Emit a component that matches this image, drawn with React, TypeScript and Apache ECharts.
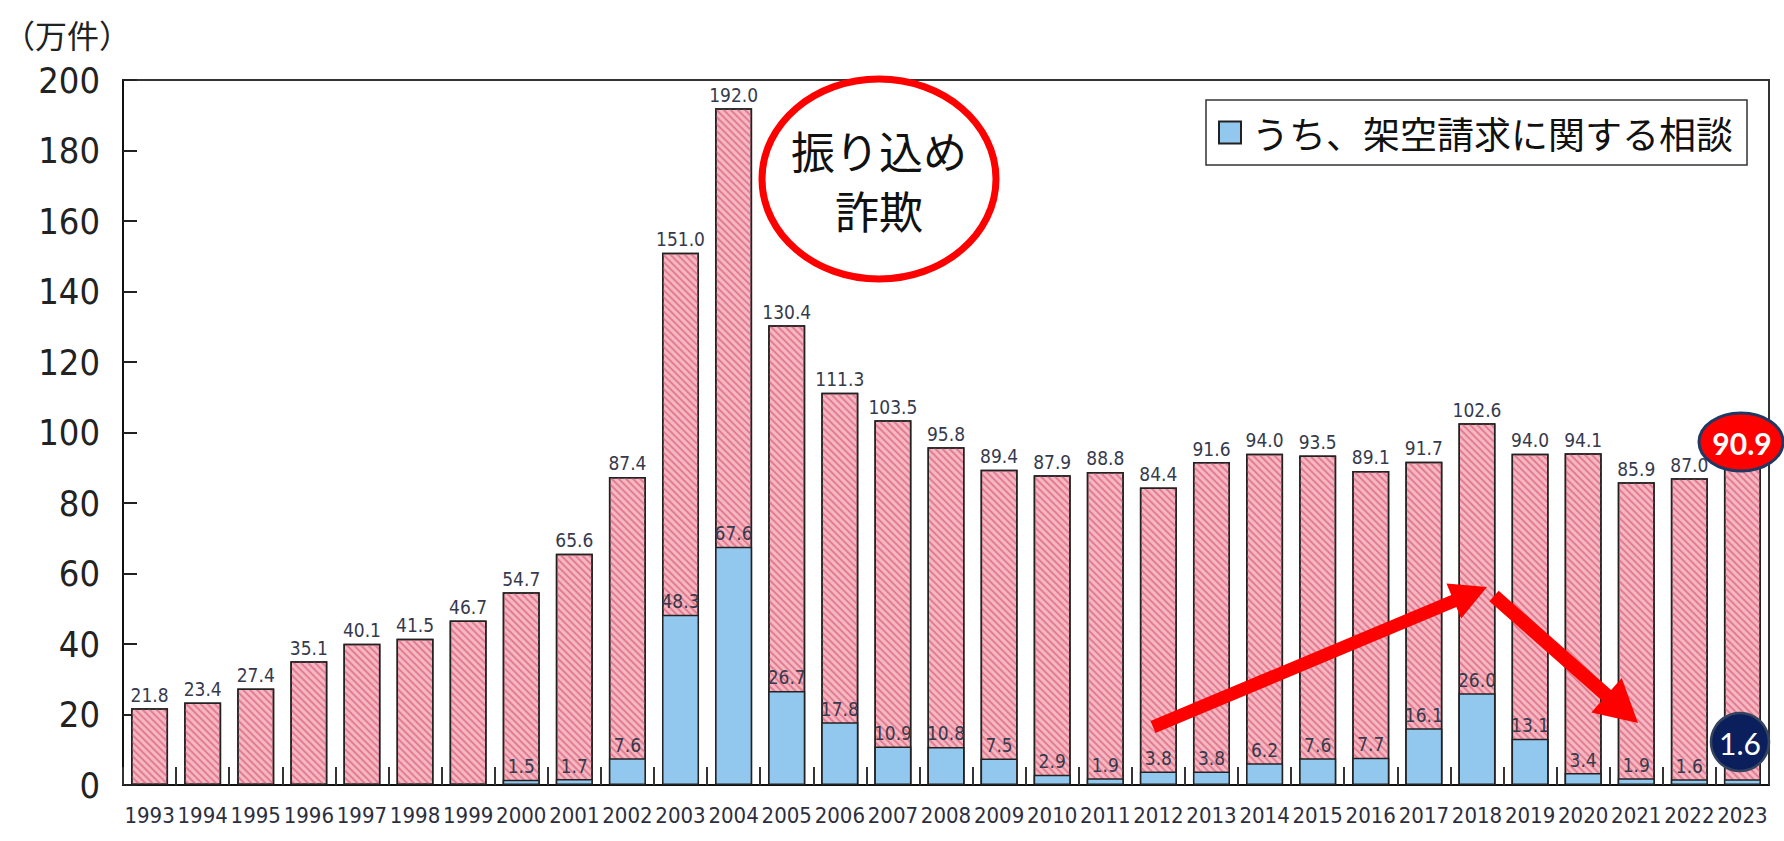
import React, { useEffect, useRef } from "react";
import * as echarts from "echarts";

const years = [
  "1993", "1994", "1995", "1996", "1997", "1998", "1999", "2000", "2001", "2002",
  "2003", "2004", "2005", "2006", "2007", "2008", "2009", "2010", "2011", "2012",
  "2013", "2014", "2015", "2016", "2017", "2018", "2019", "2020", "2021", "2022", "2023",
];

const totalConsultations = [
  21.8, 23.4, 27.4, 35.1, 40.1, 41.5, 46.7, 54.7, 65.6, 87.4,
  151.0, 192.0, 130.4, 111.3, 103.5, 95.8, 89.4, 87.9, 88.8, 84.4,
  91.6, 94.0, 93.5, 89.1, 91.7, 102.6, 94.0, 94.1, 85.9, 87.0, 90.9,
];

const fictitiousBilling: (number | null)[] = [
  null, null, null, null, null, null, null, 1.5, 1.7, 7.6,
  48.3, 67.6, 26.7, 17.8, 10.9, 10.8, 7.5, 2.9, 1.9, 3.8,
  3.8, 6.2, 7.6, 7.7, 16.1, 26.0, 13.1, 3.4, 1.9, 1.6, 1.6,
];

const yMin = 0;
const yMax = 200;
const yStep = 20;

const totalName = "消費生活相談件数";
const billingName = "うち、架空請求に関する相談";
const unitLabel = "（万件）";
const calloutTitle = "振り込め\n詐欺";

const NUM_FONT = "'Liberation Sans Narrow', 'Arial Narrow', 'DejaVu Sans Condensed', sans-serif";
const JP_FONT = "'Noto Sans CJK JP', 'Noto Sans', sans-serif";

function arrowPoints(sx: number, sy: number, ex: number, ey: number, w: number, hl: number, hw: number) {
  const dx = ex - sx;
  const dy = ey - sy;
  const len = Math.sqrt(dx * dx + dy * dy);
  const ux = dx / len;
  const uy = dy / len;
  const nx = -uy;
  const ny = ux;
  const bx = ex - ux * hl;
  const by = ey - uy * hl;
  return [
    [sx + (nx * w) / 2, sy + (ny * w) / 2],
    [bx + (nx * w) / 2, by + (ny * w) / 2],
    [bx + (nx * hw) / 2, by + (ny * hw) / 2],
    [ex, ey],
    [bx - (nx * hw) / 2, by - (ny * hw) / 2],
    [bx - (nx * w) / 2, by - (ny * w) / 2],
    [sx - (nx * w) / 2, sy - (ny * w) / 2],
  ];
}

export default function App() {
  const ref = useRef<HTMLDivElement>(null);

  useEffect(() => {
    if (!ref.current) return;
    const chart = echarts.init(ref.current, undefined, { renderer: "svg" });
    const last = years.length - 1;

    const labelStyle = {
      fontFamily: NUM_FONT,
      fontSize: 19,
      color: "#363a4c",
    };

    const option: any = {
      animation: false,
      backgroundColor: "#ffffff",
      grid: {
        left: 108,
        right: 15,
        top: 80,
        bottom: 56,
        show: true,
        borderColor: "#333333",
        borderWidth: 2,
        backgroundColor: "transparent",
      },
      legend: {
        data: [billingName],
        right: 37,
        top: 100,
        padding: [14, 14, 14, 12],
        borderColor: "#333333",
        borderWidth: 1.5,
        backgroundColor: "#ffffff",
        itemWidth: 22,
        itemHeight: 22,
        icon: "rect",
        textStyle: {
          fontFamily: JP_FONT,
          fontSize: 37,
          color: "#111111",
          padding: [0, 0, 0, 6],
        },
      },
      xAxis: {
        type: "category",
        data: years,
        axisLine: { show: true, lineStyle: { color: "#111111", width: 2 } },
        axisTick: {
          show: true,
          inside: true,
          length: 18,
          lineStyle: { color: "#333333", width: 2 },
        },
        axisLabel: {
          interval: 0,
          fontFamily: NUM_FONT,
          fontSize: 22,
          color: "#2c2e3e",
          margin: 19,
        },
      },
      yAxis: {
        type: "value",
        min: yMin,
        max: yMax,
        interval: yStep,
        name: unitLabel,
        nameLocation: "end",
        nameGap: 46,
        nameTextStyle: {
          fontFamily: JP_FONT,
          fontSize: 32,
          color: "#222222",
          align: "right",
          verticalAlign: "middle",
          padding: [0, -8, 0, 0],
        },
        splitLine: { show: false },
        axisLine: { show: true, lineStyle: { color: "#111111", width: 2 } },
        axisTick: {
          show: true,
          inside: true,
          length: 14,
          lineStyle: { color: "#222222", width: 2 },
        },
        axisLabel: {
          fontFamily: NUM_FONT,
          fontSize: 36,
          color: "#222222",
          margin: 23,
        },
      },
      series: [
        {
          name: totalName,
          type: "bar",
          barWidth: 37,
          barGap: "-100%",
          data: totalConsultations.map((v, i) =>
            i === last ? { value: v, label: { show: false } } : v
          ),
          itemStyle: {
            color: "#f4b8c2",
            borderColor: "#222222",
            borderWidth: 1.5,
            decal: {
              symbol: "rect",
              symbolSize: 1,
              color: "#e47c92",
              dashArrayX: [1, 0],
              dashArrayY: [2, 2.4],
              rotation: Math.PI / 4,
            },
          },
          label: {
            show: true,
            position: "top",
            distance: 4,
            formatter: (p: any) => Number(p.value).toFixed(1),
            backgroundColor: "#ffffff",
            padding: [1, 3, 0, 3],
            ...labelStyle,
          },
          z: 2,
        },
        {
          name: billingName,
          type: "bar",
          barWidth: 37,
          barGap: "-100%",
          data: fictitiousBilling.map((v, i) =>
            i === last ? { value: v, label: { show: false } } : v
          ),
          itemStyle: {
            color: "#92c8ee",
            borderColor: "#222222",
            borderWidth: 1.5,
          },
          label: {
            show: true,
            position: "top",
            distance: 4,
            formatter: (p: any) => (p.value == null ? "" : Number(p.value).toFixed(1)),
            ...labelStyle,
          },
          z: 3,
        },
      ],
      graphic: [
        {
          type: "ellipse",
          shape: { cx: 879, cy: 179, rx: 117, ry: 100 },
          style: { fill: "#ffffff", stroke: "#ff0000", lineWidth: 7 },
          z: 10,
        },
        {
          type: "text",
          x: 879,
          y: 180,
          style: {
            text: calloutTitle,
            fontFamily: JP_FONT,
            fontSize: 44,
            lineHeight: 60,
            fill: "#111111",
            align: "center",
            verticalAlign: "middle",
          },
          z: 11,
        },
        {
          type: "polygon",
          shape: { points: arrowPoints(1153, 727, 1487, 587, 13, 36, 38) },
          style: { fill: "#ff0000" },
          z: 10,
        },
        {
          type: "polygon",
          shape: { points: arrowPoints(1494, 596, 1638, 723, 14, 42, 46) },
          style: { fill: "#ff0000" },
          z: 10,
        },
        {
          type: "ellipse",
          shape: { cx: 1741, cy: 442, rx: 42, ry: 29 },
          style: { fill: "#ff0000", stroke: "#1f3864", lineWidth: 3 },
          z: 10,
        },
        {
          type: "text",
          x: 1742,
          y: 443,
          style: {
            text: totalConsultations[last].toFixed(1),
            fontFamily: "Lato, 'Open Sans', sans-serif",
            fontWeight: "bold",
            fontSize: 30,
            fill: "#ffffff",
            align: "center",
            verticalAlign: "middle",
          },
          z: 11,
        },
        {
          type: "circle",
          shape: { cx: 1740, cy: 742, r: 29 },
          style: { fill: "#0b1f5c", stroke: "#34445f", lineWidth: 2.5 },
          z: 10,
        },
        {
          type: "text",
          x: 1740,
          y: 743,
          style: {
            text: String(fictitiousBilling[last]),
            fontFamily: "Lato, 'Open Sans', sans-serif",
            fontSize: 30,
            fill: "#ffffff",
            align: "center",
            verticalAlign: "middle",
          },
          z: 11,
        },
      ],
    };

    chart.setOption(option);
    return () => chart.dispose();
  }, []);

  return (
    <div
      ref={ref}
      style={{ position: "absolute", left: 0, top: 0, width: 1784, height: 841 }}
    />
  );
}
